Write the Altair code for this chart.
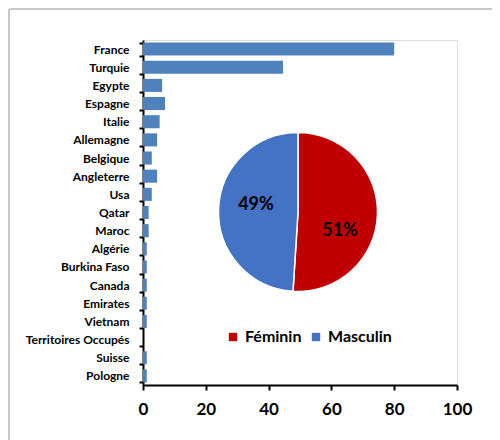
import altair as alt
import pandas as pd

countries = ["France", "Turquie", "Egypte", "Espagne", "Italie", "Allemagne", "Belgique",
             "Angleterre", "Usa", "Qatar", "Maroc", "Algérie", "Burkina Faso", "Canada",
             "Emirates", "Vietnam", "Territoires Occupés", "Suisse", "Pologne"]
values = [80, 44.6, 6.1, 7.0, 5.3, 4.5, 2.8, 4.5, 2.8, 1.8, 1.8, 1.2, 1.2, 1.2, 1.2, 1.2, 0, 1.2, 1.2]

genders = ["Féminin", "Masculin"]
shares = [51, 49]
share_labels = ["51%", "49%"]
gender_colors = ["#C00000", "#4472C4"]

FONT = "Lato"
W, H = 314, 345

bars_df = pd.DataFrame({"pays": countries, "valeur": values})
pie_df = pd.DataFrame({"sexe": genders, "part": shares, "label": share_labels, "ordre": [0, 1]})
frame_df = pd.DataFrame({"k": [0]})

frame_top = alt.Chart(frame_df).mark_rule(color="#c8c8c8", strokeWidth=2).encode(
    x=alt.value(-134), x2=alt.value(400), y=alt.value(-31)
)
frame_left = alt.Chart(frame_df).mark_rule(color="#c8c8c8", strokeWidth=2).encode(
    x=alt.value(-134), y=alt.value(-31), y2=alt.value(420)
)

bars = alt.Chart(bars_df).mark_bar(color="#4F81BD").encode(
    x=alt.X("valeur:Q", scale=alt.Scale(domain=[0, 100], nice=False),
            axis=alt.Axis(values=[0, 20, 40, 60, 80, 100], title=None, grid=False,
                          domainColor="black", domainWidth=2, tickColor="black", tickWidth=2,
                          tickSize=5, labelFont=FONT, labelFontSize=17, labelFontWeight="bold",
                          labelColor="black", labelPadding=11, labelFlush=False)),
    y=alt.Y("pays:N", sort=countries, scale=alt.Scale(paddingInner=0.28, paddingOuter=0.14),
            axis=alt.Axis(title=None, domainColor="black", domainWidth=2, tickColor="black",
                          tickWidth=2, tickSize=4, tickBand="extent", labelFont=FONT,
                          labelFontSize=12, labelFontWeight="bold", labelColor="black",
                          labelPadding=10)),
)

CX, CY = 155, 172

pie = alt.Chart(pie_df).mark_arc(outerRadius=79.5, stroke="white", strokeWidth=1.5).encode(
    theta=alt.Theta("part:Q", stack=True),
    order=alt.Order("ordre:Q"),
    color=alt.Color("sexe:N", scale=alt.Scale(domain=genders, range=gender_colors),
                    legend=alt.Legend(title=None, orient="none", direction="horizontal",
                                      legendX=82, legendY=289, symbolType="square",
                                      symbolSize=70, symbolStrokeWidth=0,
                                      labelFont=FONT, labelFontSize=16,
                                      labelFontWeight="bold", labelColor="black",
                                      columnPadding=6, labelOffset=4)),
    x=alt.value(CX), y=alt.value(CY),
)

pie_text = alt.Chart(pie_df).mark_text(radius=44, dy=6, font=FONT, fontSize=18,
                                       fontWeight="bold", color="black").encode(
    theta=alt.Theta("part:Q", stack=True, scale=alt.Scale(range=[0.27, 6.553])),
    order=alt.Order("ordre:Q"),
    text="label:N",
    x=alt.value(CX), y=alt.value(CY),
)

chart = alt.layer(frame_top, frame_left, bars, pie, pie_text).resolve_scale(
    theta="independent"
).properties(
    width=W, height=H,
    padding={"left": 135, "top": 32, "right": 35, "bottom": 55},
    autosize=alt.AutoSizeParams(type="none"),
).configure_view(stroke=None).configure(background="white")

chart.save("out.html", embed_options={"renderer": "svg", "actions": False})
